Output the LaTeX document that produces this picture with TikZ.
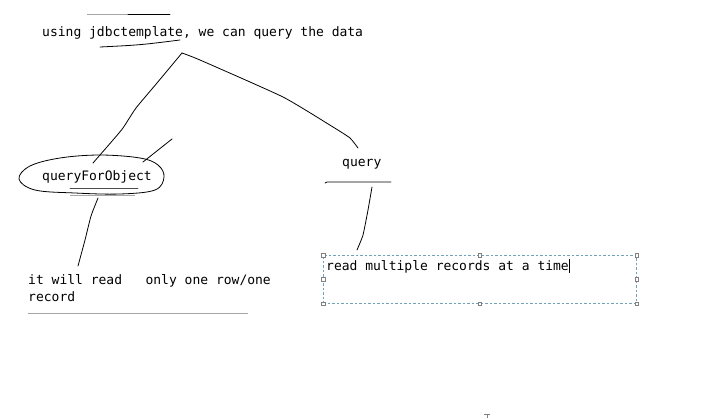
\documentclass[tikz,border=0pt]{standalone}
\usepackage{fontspec}
\setmonofont{DejaVu Sans Mono}
\begin{document}
\begin{tikzpicture}[x=1pt, y=-1pt,
    every node/.style={font=\ttfamily\fontsize{13}{17}\selectfont, inner sep=0pt, anchor=base west},
    pen/.style={line width=0.8pt, line join=round, line cap=round},
    faint/.style={line width=1pt, black!35},
    selbox/.style={draw=cyan!40!gray, dashed, dash pattern=on 2.5pt off 2pt, line width=0.7pt,
      minimum width=313pt, minimum height=48pt, anchor=north west},
    handle/.style={draw=gray, fill=white, line width=0.4pt, minimum size=3.5pt, inner sep=0pt, anchor=center}]
    \useasboundingbox[fill=white] (0,0) rectangle (712,418);

    \node (title) at (42,36.5) {using jdbctemplate, we can query the data};
    \node (qfo)   at (42,180) {queryForObject};
    \node (query) at (342,166) {query};
    \node (one)   at (28,301) [align=left] {it will read\ \ \ only one row/one\\record};
    \node (box)   at (323,255) [selbox] {};
    \node (multi) at (326,270) {read multiple records at a time};
    \foreach \a in {north west, north, north east, east, south east, south, south west, west}
      \node[handle] at (box.\a) {};

    \coordinate (apex)   at (182,53);
    \coordinate (qfoin)  at (93,163);
    \coordinate (qryin)  at (358,148);
    \coordinate (qfoout) at (98,198);
    \coordinate (oneIn)  at (78,266);
    \coordinate (qryout) at (372,187);
    \coordinate (boxin)  at (357,250);

    % underlines
    \draw[faint] (87,14) -- (128,14);
    \draw[pen] (128,14) -- (170,14);
    \draw[pen] (100,47) .. controls (140,45) .. (180,40);
    \draw[pen, black!70] (70,188) -- (138,188);
    \draw[faint] (70,195.5) -- (135,195.5);
    \draw[pen] (325,183) -- (327,182) -- (391,182);
    \draw[faint] (28,313) -- (248,313);

    % ellipse round queryForObject
    \draw[pen] plot[smooth cycle, tension=0.6] coordinates {(19,179) (30,166) (60,158) (100,155)
      (140,158) (158,165) (164,177) (155,190) (120,194) (75,193) (35,190)};

    % branches
    \draw[pen] plot[smooth, tension=0.3] coordinates {(apex) (157,83) (136,108) (123,128) (113,140) (qfoin)};
    \draw[pen] plot[smooth, tension=0.3] coordinates {(apex) (200,60) (283,97) (333,127) (350,138) (qryin)};
    \draw[pen] (172,139) -- (143,162);
    \draw[pen] plot[smooth, tension=0.3] coordinates {(qfoout) (91,216) (85,240) (oneIn)};
    \draw[pen] plot[smooth, tension=0.3] coordinates {(qryout) (368,210) (363,235) (boxin)};

    % text cursors
    \draw[line width=0.6pt] (569.5,259) -- (569.5,273);
    \draw[line width=0.6pt, gray] (484,414) -- (490,414) (487,414) -- (487,418);
\end{tikzpicture}
\end{document}
